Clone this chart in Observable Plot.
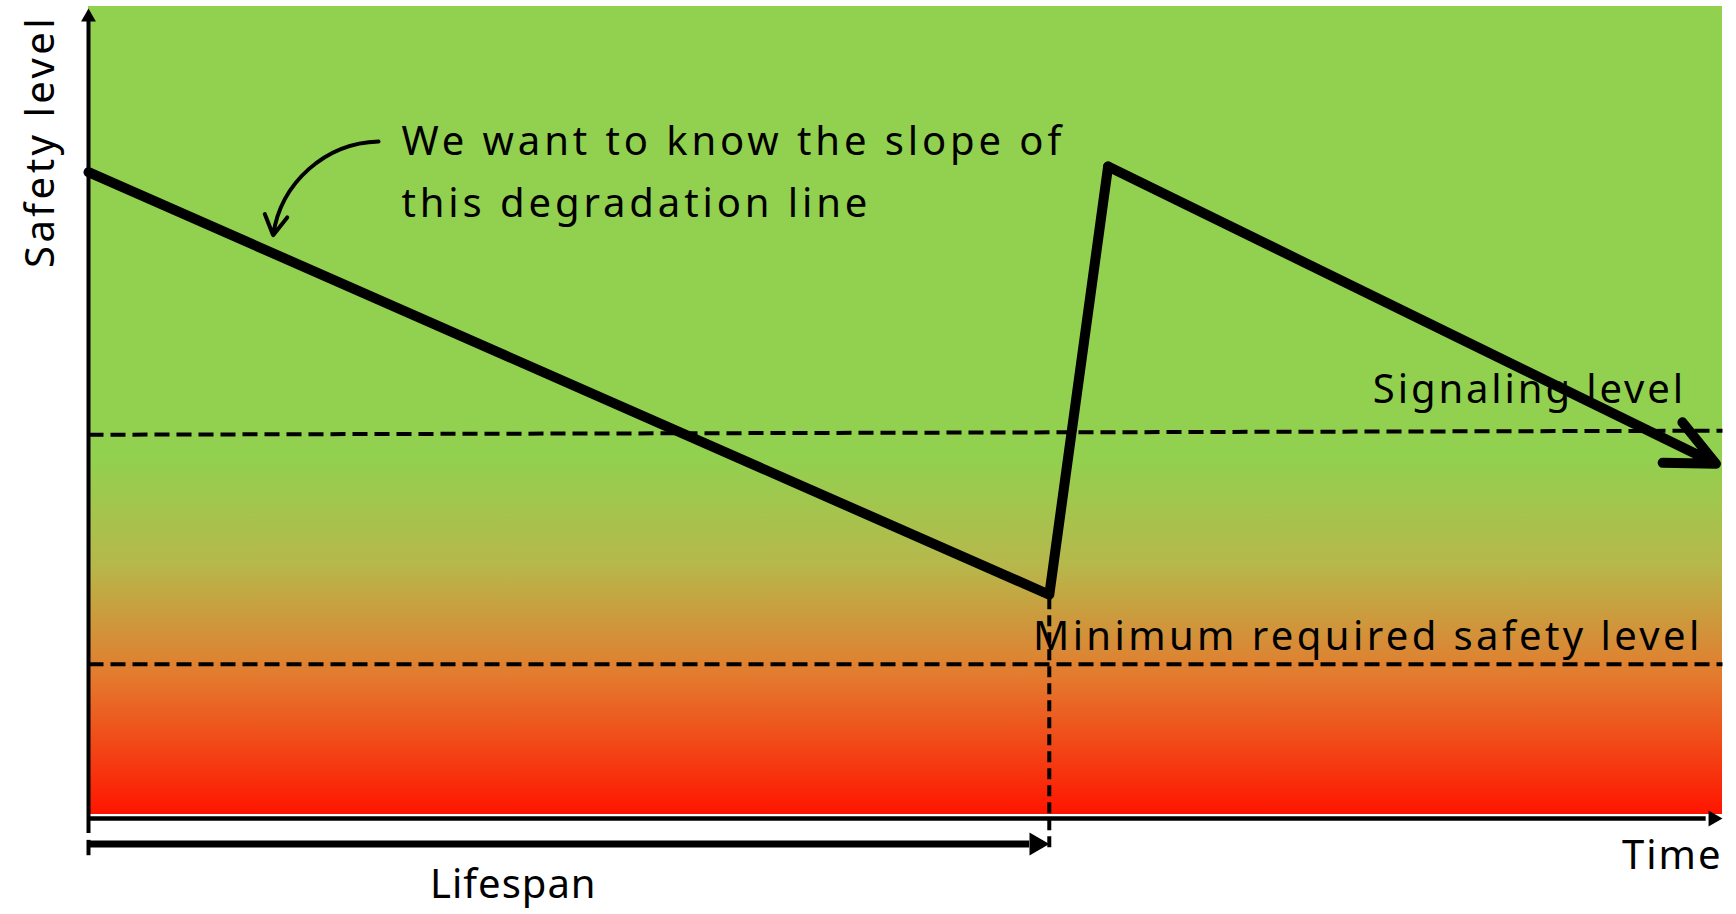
<!DOCTYPE html>
<html>
<head>
<meta charset="utf-8">
<script src="https://cdn.jsdelivr.net/npm/d3@7"></script>
<script src="https://cdn.jsdelivr.net/npm/@observablehq/plot@0.6"></script>
<style>
  html, body { margin: 0; padding: 0; background: #ffffff; }
  #chart svg { display: block; }
</style>
</head>
<body>
<div id="chart"></div>
<script>
// ---- Data (time in % of horizon, safety level in % of scale) ----
const degradationTime = [0, 58.8, 62.4];
const degradationSafety = [79.5, 27.2, 80.2];
const projectionTime = [62.4, 99.6];
const projectionSafety = [80.2, 43.4];

const levelNames = ["Signaling level", "Minimum required safety level"];
const levelStartSafety = [47.0, 18.6];
const levelEndSafety = [47.5, 18.6];
const levelLabelTime = [78.6, 57.8];
const levelLabelSafety = [50.9, 20.3];

const lifespanEnd = 58.8;

const noteLines = ["We want to know the slope of", "this degradation line"];
const noteTime = [19.15, 19.15];
const noteSafety = [81.6, 74.0];
const noteArrowFrom = [17.75, 83.3];
const noteArrowTo = [11.3, 71.7];

const axisLabels = ["Safety level", "Time", "Lifespan"];

// ---- Build tables from the arrays ----
const degradation = degradationTime.map((t, i) => ({t, s: degradationSafety[i]}));
const projection = [{x1: projectionTime[0], y1: projectionSafety[0], x2: projectionTime[1], y2: projectionSafety[1]}];
const levels = levelNames.map((name, i) => ({name, s1: levelStartSafety[i], s2: levelEndSafety[i], lt: levelLabelTime[i], ls: levelLabelSafety[i]}));
const notes = noteLines.map((text, i) => ({text, t: noteTime[i], s: noteSafety[i]}));

const font = "'Comic Sans MS', 'Noto Sans', sans-serif";
const ink = "#000000";

const chart = Plot.plot({
  width: 1736,
  height: 914,
  marginLeft: 88,
  marginRight: 14,
  marginTop: 6,
  marginBottom: 100,
  x: {domain: [0, 100], axis: null},
  y: {domain: [0, 100], axis: null},
  style: {background: "transparent", overflow: "visible", fontFamily: font},
  marks: [
    // gradient background
    Plot.rect([{x1: 0, x2: 100, y1: 0, y2: 100}], {x1: "x1", x2: "x2", y1: "y1", y2: "y2", fill: "url(#safetyGradient)"}),
    // level lines
    Plot.link(levels, {x1: () => 0, x2: () => 100, y1: "s1", y2: "s2", stroke: ink, strokeWidth: 4, strokeDasharray: "15,7"}),
    // lifespan vertical dashed
    Plot.ruleX([{x: lifespanEnd, y1: -4.1, y2: degradationSafety[1]}], {x: "x", y1: "y1", y2: "y2", stroke: ink, strokeWidth: 4, strokeDasharray: "11,6"}),
    // axes
    Plot.ruleX([{x: 0, y1: -2.35, y2: 98.5}], {x: "x", y1: "y1", y2: "y2", stroke: ink, strokeWidth: 4}),
    Plot.dot([{x: 0, y: 99.75}], {x: "x", y: "y", symbol: "triangle", r: 5.5, fill: ink, stroke: null, dy: 8.6}),
    Plot.ruleY([{y: -0.5, x1: 0, x2: 99}], {y: "y", x1: "x1", x2: "x2", stroke: ink, strokeWidth: 4.5}),
    Plot.dot([{x: 100, y: -0.5}], {x: "x", y: "y", symbol: "triangle", r: 6, fill: ink, stroke: null, rotate: 90, dx: -9.3}),
    // lifespan arrow
    Plot.ruleY([{y: -3.65, x1: 0, x2: lifespanEnd - 1.2}], {y: "y", x1: "x1", x2: "x2", stroke: ink, strokeWidth: 7}),
    Plot.ruleX([{x: 0, y1: -3.2, y2: -5.1}], {x: "x", y1: "y1", y2: "y2", stroke: ink, strokeWidth: 4}),
    Plot.dot([{x: lifespanEnd, y: -3.65}], {x: "x", y: "y", symbol: "triangle", r: 8.5, fill: ink, stroke: null, rotate: 90, dx: -13.2}),
    // degradation line
    Plot.line(degradation, {x: "t", y: "s", stroke: ink, strokeWidth: 10, strokeLinejoin: "round", strokeLinecap: "round"}),
    Plot.arrow(projection, {x1: "x1", y1: "y1", x2: "x2", y2: "y2", stroke: ink, strokeWidth: 10, headLength: 8, headAngle: 50, strokeLinecap: "round", strokeLinejoin: "round"}),
    // annotation arrow
    Plot.arrow([{x1: noteArrowFrom[0], y1: noteArrowFrom[1], x2: noteArrowTo[0], y2: noteArrowTo[1]}], {x1: "x1", y1: "y1", x2: "x2", y2: "y2", bend: -40, stroke: ink, strokeWidth: 4, headLength: 8.5, headAngle: 60}),
    // texts
    Plot.text(notes, {x: "t", y: "s", text: "text", textAnchor: "start", lineAnchor: "bottom", fontSize: 40, fill: ink, fontFamily: font}),
    Plot.text(levels, {x: "lt", y: "ls", text: "name", textAnchor: "start", lineAnchor: "bottom", fontSize: 40, fill: ink, fontFamily: font}),
    Plot.text([{t: -2.9, s: 83.3, text: axisLabels[0]}], {x: "t", y: "s", text: "text", rotate: -90, fontSize: 40, fill: ink, fontFamily: font}),
    Plot.text([{t: 100, s: -6.7, text: axisLabels[1]}], {x: "t", y: "s", text: "text", textAnchor: "end", lineAnchor: "bottom", fontSize: 40, fill: ink, fontFamily: font}),
    Plot.text([{t: 26.0, s: -10.3, text: axisLabels[2]}], {x: "t", y: "s", text: "text", textAnchor: "middle", lineAnchor: "bottom", fontSize: 40, fill: ink, fontFamily: font})
  ]
});

// gradient definition
const ns = "http://www.w3.org/2000/svg";
const defs = document.createElementNS(ns, "defs");
const grad = document.createElementNS(ns, "linearGradient");
grad.setAttribute("id", "safetyGradient");
grad.setAttribute("x1", "0"); grad.setAttribute("y1", "0");
grad.setAttribute("x2", "0"); grad.setAttribute("y2", "1");
[["0", "#92D050"], ["0.56", "#92D050"], ["0.69", "#B6B84B"], ["0.83", "#E47A2E"], ["1", "#FF1500"]].forEach(([o, c]) => {
  const st = document.createElementNS(ns, "stop");
  st.setAttribute("offset", o);
  st.setAttribute("stop-color", c);
  grad.appendChild(st);
});
defs.appendChild(grad);
chart.insertBefore(defs, chart.firstChild);

// widen the lettering to match the hand-drawn look
const spacing = {
  "We want to know the slope of": 3.9,
  "this degradation line": 3.9,
  "Signaling level": 2.9,
  "Minimum required safety level": 3.4,
  "Safety level": 3.5,
  "Time": 2,
  "Lifespan": 1
};
chart.querySelectorAll("text").forEach((el) => {
  const s = spacing[el.textContent];
  if (s != null) el.setAttribute("letter-spacing", s);
});

document.getElementById("chart").appendChild(chart);
</script>
</body>
</html>
